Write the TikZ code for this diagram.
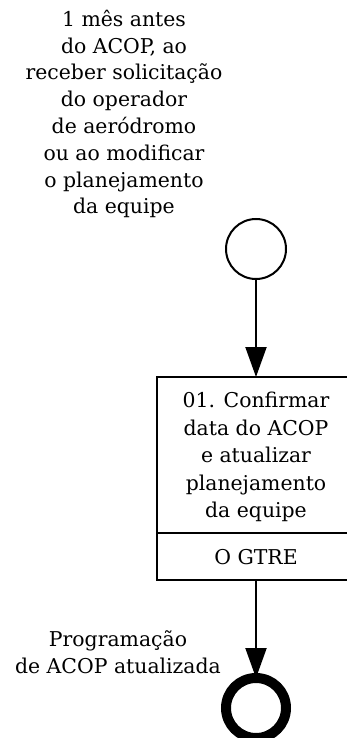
\documentclass[tikz,border=0pt]{standalone}
\usepackage{fontspec}
\setmainfont{DejaVu Serif}
\usetikzlibrary{arrows.meta}
\begin{document}
\begin{tikzpicture}[x=1pt,y=-1pt,
  lbl/.style={font=\fontsize{20.4}{26.8}\selectfont, align=center, inner sep=0pt},
  boxtxt/.style={font=\fontsize{20.4}{27.5}\selectfont, align=center, inner sep=0pt},
  flow/.style={line width=2pt, -{Triangle[length=30pt,width=21pt]}},
  startev/.style={circle, draw, line width=2pt, minimum size=60pt, inner sep=0pt, outer sep=0pt},
  endev/.style={circle, draw, line width=10pt, minimum size=60pt, inner sep=0pt, outer sep=0pt},
  taskbox/.style={draw, line width=2pt, minimum width=210pt, minimum height=203pt, inner sep=0pt, outer sep=0pt}]
\useasboundingbox (0,0) rectangle (346,738);
\fill[white] (0,0) rectangle (346,738);
\node[lbl] (trig) at (124,114) {1 mês antes\\do ACOP, ao\\receber solicitação\\do operador\\de aeródromo\\ou ao modificar\\o planejamento\\da equipe};
\node[startev] (start) at (256,249) {};
\node[taskbox] (task) at (262,478.5) {};
\node[boxtxt] (tasktxt) at (256,457) {01. Confirmar\\data do ACOP\\e atualizar\\planejamento\\da equipe};
\coordinate (divL) at (157,533);
\coordinate (divR) at (367,533);
\draw[line width=2pt] (divL) -- (divR);
\node[boxtxt] (role) at (256,557.5) {O GTRE};
\node[endev] (end) at (256,708) {};
\node[lbl] (outlbl) at (118,652.5) {Programação\\de ACOP atualizada};
\draw[flow] (start) -- (start|-task.north);
\draw[flow] (end|-task.south) -- (end.north);
\end{tikzpicture}
\end{document}
